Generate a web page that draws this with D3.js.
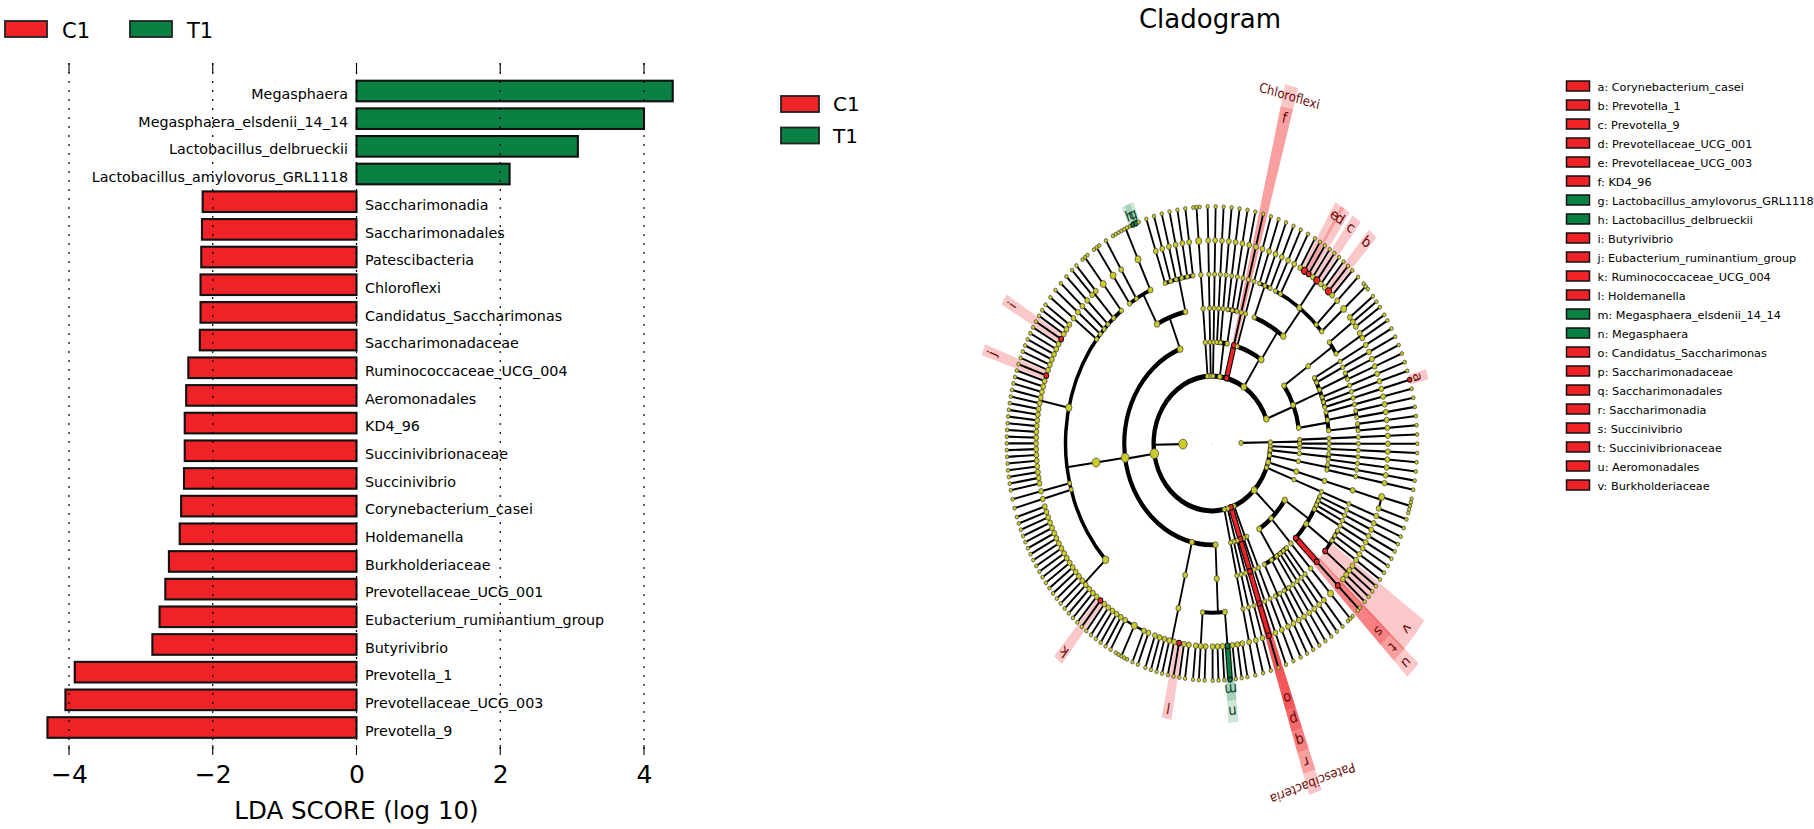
<!DOCTYPE html>
<html><head><meta charset="utf-8">
<style>html,body{margin:0;padding:0;background:#fff}svg{display:block}text{font-family:"DejaVu Sans",sans-serif;fill:#000}</style>
<script src="https://cdn.jsdelivr.net/npm/d3@7"></script></head><body><svg id="c" width="1814" height="829"></svg>
<script>
// ---------- LDA bar chart data ----------
const taxa = ["Megasphaera","Megasphaera_elsdenii_14_14","Lactobacillus_delbrueckii","Lactobacillus_amylovorus_GRL1118","Saccharimonadia","Saccharimonadales","Patescibacteria","Chloroflexi","Candidatus_Saccharimonas","Saccharimonadaceae","Ruminococcaceae_UCG_004","Aeromonadales","KD4_96","Succinivibrionaceae","Succinivibrio","Corynebacterium_casei","Holdemanella","Burkholderiaceae","Prevotellaceae_UCG_001","Eubacterium_ruminantium_group","Butyrivibrio","Prevotella_1","Prevotellaceae_UCG_003","Prevotella_9"];
const ldaScores = [4.40,4.00,3.08,2.13,-2.14,-2.15,-2.16,-2.17,-2.17,-2.18,-2.34,-2.37,-2.39,-2.39,-2.40,-2.44,-2.46,-2.61,-2.66,-2.74,-2.84,-3.92,-4.05,-4.30];
const xTicks = [-4,-2,0,2,4];
const groups = ["C1","T1"];
// ---------- Cladogram data ----------
const cladoLegend = ["a: Corynebacterium_casei","b: Prevotella_1","c: Prevotella_9","d: Prevotellaceae_UCG_001","e: Prevotellaceae_UCG_003","f: KD4_96","g: Lactobacillus_amylovorus_GRL1118","h: Lactobacillus_delbrueckii","i: Butyrivibrio","j: Eubacterium_ruminantium_group","k: Ruminococcaceae_UCG_004","l: Holdemanella","m: Megasphaera_elsdenii_14_14","n: Megasphaera","o: Candidatus_Saccharimonas","p: Saccharimonadaceae","q: Saccharimonadales","r: Saccharimonadia","s: Succinivibrio","t: Succinivibrionaceae","u: Aeromonadales","v: Burkholderiaceae"];
const t1Taxa = ["g","h","m","n"];
const bigMarkers = ["b","c","e"];
const thinEdges = ["s"];
// Taxonomy read clockwise: an array is a clade (an optional first string names a biomarker);
// a number is that many unbranched lineages running out to the species ring.
const kingdomA = [
  1, [[2]], [[2]], [[[[[5],1]]]], 1,
  [ [4,[3,["v",4]],["u",["t",["s",2]]]], [[[[3]]]], [4,[2],[2]] ],
  [2], ["Patescibacteria",["r",["q",["p",["o",1]]]]], [2], 1,
  [ [[[3,["n",["m"]],3],[3]]],
    [[[2,["l",1],5]]],
    [[ [2,[5],6,["k",1],20], 2, [19,["j",1],6,["i",1],3], 4, [2], [[3]] ]],
    [ [[[3]],1,[[7,["h"],["g"],1]]], [6] ] ],
  [[[[[3]]]]], 1, 1, [2,[3]], ["Chloroflexi",["f",1]],
  [1, [[3],[2,[1,["e",1],["d",1],1,["c",1],2,["b",1],1],1,[[3]]]]],
  [ [[[3],[2]]], [2,[2],2,[[[["a"]]]]], [1,[2],[2]] ]
];
const kingdomB = [[2]];
const taxonomy = [kingdomA, kingdomB];
const compactPhylumIndex = 5;
const firstLeafAngle = 92.3;
const levelRadii = [33.5, 237];
const arcWidths = {2:5,3:4.8,4:4.6,5:4,6:2.4,7:1.8};

const RED="#ee2227", GREEN="#0b8043";
const svg=d3.select("#c");

// ---------- bars ----------
const x=d3.scaleLinear().domain([-4,4]).range([69,644]);
const y=d3.scalePoint().domain(taxa).range([91,727.5]);
const barH=20.6;
const left=svg.append("g");
left.selectAll("rect.bar").data(taxa).join("rect").attr("class","bar")
  .attr("x",(d,i)=>Math.min(x(0),x(ldaScores[i]))).attr("width",(d,i)=>Math.abs(x(ldaScores[i])-x(0)))
  .attr("y",d=>y(d)-barH/2).attr("height",barH)
  .attr("fill",(d,i)=>ldaScores[i]>0?GREEN:RED).attr("stroke","#111").attr("stroke-width",2.1);
left.selectAll("line.grid").data(xTicks).join("line").attr("class","grid")
  .attr("x1",d=>x(d)).attr("x2",d=>x(d)).attr("y1",63).attr("y2",755)
  .attr("stroke","#000").attr("stroke-width",1.2).attr("stroke-dasharray","2,7");
[[63,73],[745,755]].forEach(([a,b])=>left.selectAll(null).data(xTicks).join("line")
  .attr("x1",d=>x(d)).attr("x2",d=>x(d)).attr("y1",a).attr("y2",b).attr("stroke","#000").attr("stroke-width",1.1));
left.selectAll("text.tx").data(taxa).join("text").attr("class","tx")
  .attr("x",(d,i)=>x(0)+(ldaScores[i]>0?-8.5:8.5)).attr("y",d=>y(d)+3).attr("dy","0.36em")
  .attr("text-anchor",(d,i)=>ldaScores[i]>0?"end":"start").attr("font-size",14.3).text(d=>d);
const ax=left.append("g").attr("transform","translate(0,765)").call(d3.axisBottom(x).tickValues(xTicks).tickSize(0).tickPadding(0));
ax.select(".domain").remove();
ax.selectAll("text").attr("font-size",25).attr("y",18).attr("dy",0).attr("font-family",'"DejaVu Sans",sans-serif');
left.append("text").attr("x",x(0)).attr("y",819).attr("text-anchor","middle").attr("font-size",24.5).text("LDA SCORE (log 10)");

// ---------- group legends ----------
[{x0:[5,130],tx:[62,187],y0:21,h:16,w:42,by:38,fs:21,step:0},{x0:[781,781],tx:[833,833],y0:96,h:16,w:38,by:111,fs:20,step:31.5}].forEach(L=>{
  groups.forEach((g,i)=>{
    left.append("rect").attr("x",L.x0[i]).attr("y",L.y0+i*L.step).attr("width",L.w).attr("height",L.h)
      .attr("fill",i?GREEN:RED).attr("stroke","#222").attr("stroke-width",1.8);
    left.append("text").attr("x",L.tx[i]).attr("y",L.by+i*L.step).attr("font-size",L.fs).text(g);
  });
});

// ---------- cladogram ----------
svg.append("text").attr("x",1210).attr("y",28).attr("text-anchor","middle").attr("font-size",26).text("Cladogram");
const MAXD=7;
function chain(depth){return depth>=MAXD?{}:{children:[chain(depth+1)]};}
function parse(spec,depth){
  const n={children:[]};let items=spec;
  if(typeof spec[0]==="string"){n.tag=spec[0];items=spec.slice(1);}
  items.forEach(it=>{
    if(typeof it==="number"){for(let i=0;i<it;i++)n.children.push(chain(depth+1));}
    else n.children.push(parse(it,depth+1));
  });
  if(!n.children.length)delete n.children;
  return n;
}
const root=d3.hierarchy(parse(taxonomy,0));
const kingdomANode=root.children[0];
const phylumOf=d=>d.ancestors().find(a=>a.depth===2);
const compact=d=>phylumOf(d)===kingdomANode.children[compactPhylumIndex];
d3.cluster().size([360,1]).separation((a,b)=>a.parent===b.parent?0.87:(a.parent.parent===b.parent.parent?1.6:(compact(a)&&compact(b)?1.95:2.2)))(root);
const lv=root.leaves();const off=firstLeafAngle-lv[0].x;
lv.forEach(d=>d.x+=off);
root.eachAfter(d=>{if(d.children){const l=d.leaves();d.x=(l[0].x+l[l.length-1].x)/2;}});
const rad=d3.scaleLinear().domain([1,MAXD]).range(levelRadii);
const pt=(a,r)=>{const t=a*Math.PI/180;return [r*Math.sin(t),-r*Math.cos(t)];};
const G=svg.append("g").attr("transform","translate(1212,443.5) scale(0.866,1)");
const isT1=n=>n.data.tag&&t1Taxa.includes(n.data.tag);
const tagged=root.descendants().filter(d=>d.data.tag);
const arc=d3.arc();const rn=a=>a*Math.PI/180;
// wedges
const endR=d=>258+22.2*(MAXD-d), labR=d=>247+22.4*(MAXD-d);
G.append("g").selectAll("path").data(tagged.slice().sort((a,b)=>a.depth-b.depth)).join("path")
  .attr("d",d=>{const l=d.leaves();return arc({innerRadius:rad(d.depth),outerRadius:endR(d.depth),startAngle:rn(l[0].x-1.2),endAngle:rn(l[l.length-1].x+1.2)});})
  .attr("fill",d=>isT1(d)?GREEN:RED).attr("fill-opacity",d=>isT1(d)?0.2:0.25);
// arcs
const inner=root.descendants().filter(d=>d.children&&d.children.length>1&&d.depth>0);
G.append("g").selectAll("path").data(inner).join("path").attr("d",d=>{
  const w=arcWidths[d.depth+1],r=rad(d.depth+1),c=d.children;
  return arc({innerRadius:r-w/2,outerRadius:r+w/2,startAngle:rn(c[0].x),endAngle:rn(c[c.length-1].x)});
}).attr("fill","#000");
// radial edges
const edges=root.descendants().filter(d=>d.children&&d.depth>0);
G.append("g").selectAll("line").data(edges).join("line")
  .attr("x1",d=>pt(d.x,rad(d.depth))[0]).attr("y1",d=>pt(d.x,rad(d.depth))[1])
  .attr("x2",d=>pt(d.x,rad(d.depth+1))[0]).attr("y2",d=>pt(d.x,rad(d.depth+1))[1])
  .attr("stroke","#000").attr("stroke-width",2.1);
// coloured edges between biomarkers
const colored=tagged.filter(d=>d.parent.data.tag&&!thinEdges.includes(d.data.tag));
[[ "#000",6.4 ],[null,4]].forEach(([c,w])=>{
  G.append("g").selectAll("line").data(colored).join("line")
    .attr("x1",d=>pt(d.parent.x,rad(d.depth-1))[0]).attr("y1",d=>pt(d.parent.x,rad(d.depth-1))[1])
    .attr("x2",d=>pt(d.x,rad(d.depth))[0]).attr("y2",d=>pt(d.x,rad(d.depth))[1])
    .attr("stroke",d=>c||(isT1(d)?GREEN:RED)).attr("stroke-width",w);
});
// nodes
const sz=d3.scaleSqrt().domain([1,100]).range([2.4,4.9]).clamp(true);
function nodeR(d){
  if(d.depth===0)return 0.7;
  if(d.data.tag){if(bigMarkers.includes(d.data.tag))return 3.6; return d.depth===MAXD?2.5:2.8;}
  if(d.depth===MAXD)return 2;
  if(d.depth===6)return d.leaves().length>1?3.5:2.8;
  return sz(d.leaves().length);
}
G.append("g").selectAll("circle").data(root.descendants()).join("circle")
  .attr("cx",d=>d.depth?pt(d.x,rad(d.depth))[0]:0).attr("cy",d=>d.depth?pt(d.x,rad(d.depth))[1]:0)
  .attr("r",nodeR)
  .attr("fill",d=>d.data.tag?(isT1(d)?GREEN:RED):(d.depth?"#cccc28":"#e6e68a"))
  .attr("stroke",d=>d.depth?(d.data.tag?"#111":"#444"):"none").attr("stroke-width",d=>d.data.tag?1.1:0.8);
// labels
G.append("g").selectAll("text").data(tagged).join("text")
  .attr("transform",d=>{const p=pt(d.x,labR(d.depth));return `translate(${p[0]},${p[1]}) rotate(${d.x})`;})
  .attr("text-anchor","middle").attr("dy","0.35em").attr("font-size",d=>d.data.tag.length>1?13.5:15)
  .style("fill",d=>isT1(d)?"#06401f":"#6e0b0b").text(d=>d.data.tag);

// ---------- biomarker legend ----------
const ly=d3.scalePoint().domain(cladoLegend).range([86,485]);
const LG=svg.append("g");
LG.selectAll("rect").data(cladoLegend).join("rect").attr("x",1566.5).attr("width",23).attr("y",d=>ly(d)-5).attr("height",10)
  .attr("fill",d=>t1Taxa.includes(d[0])?GREEN:RED).attr("stroke","#111").attr("stroke-width",1.5);
LG.selectAll("text").data(cladoLegend).join("text").attr("x",1597.5).attr("y",d=>ly(d)+0.5).attr("dy","0.36em").attr("font-size",11.25).text(d=>d);
</script></body></html>
